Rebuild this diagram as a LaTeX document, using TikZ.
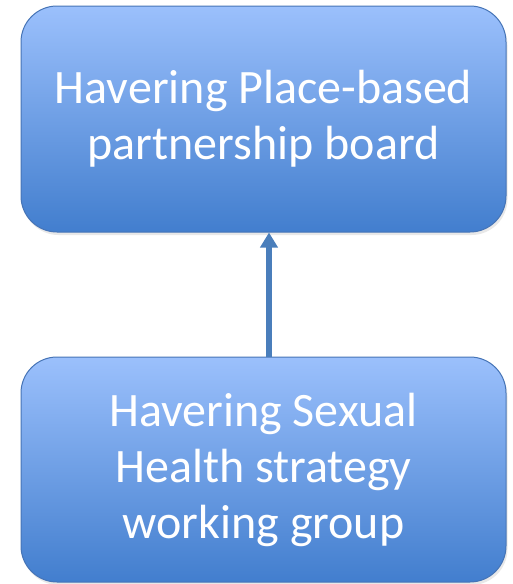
\documentclass[tikz,border=0pt]{standalone}
\usepackage{fontspec}
\setmainfont{Carlito}
\usetikzlibrary{arrows.meta,shadows}
\definecolor{boxtop}{RGB}{155,192,252}
\definecolor{boxbottom}{RGB}{66,126,206}
\definecolor{boxline}{RGB}{70,116,182}
\definecolor{flowline}{RGB}{74,126,187}
\tikzset{
	% Rounded shaded box for each group
	group node/.style={rectangle,rounded corners=36pt,draw=boxline,line width=1pt,
		top color=boxtop,bottom color=boxbottom,text=white,align=center,
		minimum width=485pt,minimum height=226pt,inner sep=0pt,
		font=\fontsize{48}{56}\selectfont,
		drop shadow={shadow xshift=1.5pt,shadow yshift=-3pt,opacity=0.18}},
	% Reporting arrow
	report arrow/.style={draw=flowline,line width=6.5pt,-{Triangle[length=15pt,width=17pt]}}
}
\begin{document}
\begin{tikzpicture}[x=1pt,y=1pt]
	\useasboundingbox (0,0) rectangle (512,-584);
	% the two groups
	\node(board)[group node] at (263.5,-119){Havering Place-based\\partnership board};
	\node(group)[group node,minimum height=225pt] at (263.5,-469.5){Havering Sexual\\Health strategy\\working group};
	% group reports up to the board
	\draw[report arrow] ([xshift=5.5pt]group.north) -- ([xshift=5.5pt]board.south);
\end{tikzpicture}
\end{document}
